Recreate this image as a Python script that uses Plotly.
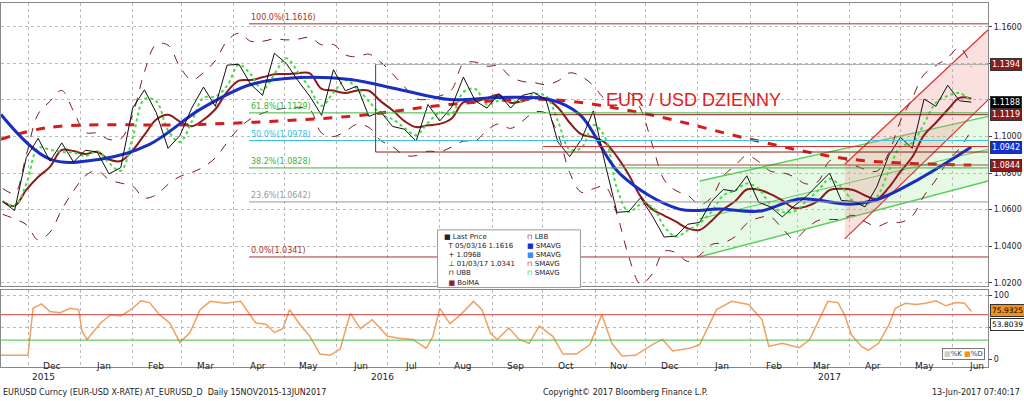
import plotly.graph_objects as go
import pandas as pd

# weekly closes EUR/USD
price_dates = pd.date_range("2015-11-16", "2017-06-12", freq="W-MON")
price_close = [1.0645, 1.0595, 1.0885, 1.0990, 1.0865, 1.0965, 1.0860, 1.0925, 1.0915, 1.0795,
               1.0830, 1.1155, 1.1255, 1.1130, 1.0935, 1.1005, 1.1155, 1.1270, 1.1165, 1.1390,
               1.1395, 1.1285, 1.1225, 1.1455, 1.1400, 1.1305, 1.1220, 1.1115, 1.1365, 1.1250,
               1.1275, 1.1110, 1.1135, 1.1055, 1.1040, 1.0975, 1.1175, 1.1085, 1.1160, 1.1325,
               1.1195, 1.1155, 1.1235, 1.1155, 1.1225, 1.1240, 1.1200, 1.0970, 1.0890, 1.0985,
               1.1140, 1.0850, 1.0585, 1.0590, 1.0665, 1.0565, 1.0450, 1.0455, 1.0520, 1.0530,
               1.0645, 1.0710, 1.0700, 1.0785, 1.0640, 1.0615, 1.0560, 1.0620, 1.0670, 1.0735,
               1.0800, 1.0650, 1.0645, 1.0615, 1.0725, 1.0895, 1.0995, 1.0935, 1.1205, 1.1165,
               1.1280, 1.1195, 1.1188]

sma_blue_dates = ["2015-11-15", "2015-12-14", "2016-01-13", "2016-02-11", "2016-03-12", "2016-04-11",
                  "2016-05-10", "2016-06-09", "2016-07-08", "2016-08-07", "2016-09-05", "2016-10-05",
                  "2016-10-23", "2016-11-16", "2016-12-21", "2017-01-14", "2017-02-07", "2017-03-02",
                  "2017-04-01", "2017-04-18", "2017-05-12", "2017-06-12"]
sma_blue = [1.112, 1.0876, 1.0876, 1.0957, 1.1148, 1.1284, 1.1322, 1.1311, 1.1257, 1.1202, 1.1213,
            1.1202, 1.112, 1.0794, 1.0603, 1.0603, 1.0592, 1.0658, 1.063, 1.0658, 1.0767, 1.0942]

sma_red_dates = ["2015-11-15", "2015-12-14", "2016-03-12", "2016-06-09", "2016-08-07", "2016-10-05",
                 "2016-12-03", "2017-02-01", "2017-04-01", "2017-06-12"]
sma_red = [1.0985, 1.105, 1.1066, 1.111, 1.1175, 1.1202, 1.112, 1.0985, 1.0876, 1.0844]

osc_dates = ["2015-11-15", "2015-12-01", "2015-12-04", "2015-12-09", "2015-12-14", "2015-12-20",
             "2015-12-26", "2015-12-31", "2016-01-02", "2016-01-05", "2016-01-10", "2016-01-13",
             "2016-01-19", "2016-01-25", "2016-01-31", "2016-02-06", "2016-02-11", "2016-02-17",
             "2016-02-23", "2016-02-29", "2016-03-06", "2016-03-12", "2016-03-18", "2016-03-27",
             "2016-04-05", "2016-04-14", "2016-04-20", "2016-04-25", "2016-04-30", "2016-05-04",
             "2016-05-10", "2016-05-16", "2016-05-22", "2016-05-28", "2016-06-03", "2016-06-09",
             "2016-06-15", "2016-06-22", "2016-07-01", "2016-07-08", "2016-07-16", "2016-07-24",
             "2016-07-28", "2016-08-01", "2016-08-07", "2016-08-13", "2016-08-21", "2016-08-26",
             "2016-08-31", "2016-09-04", "2016-09-11", "2016-09-17", "2016-09-23", "2016-09-29",
             "2016-10-07", "2016-10-13", "2016-10-21", "2016-10-29", "2016-11-05", "2016-11-11",
             "2016-11-17", "2016-11-25", "2016-12-05", "2016-12-11", "2016-12-17", "2016-12-27",
             "2017-01-02", "2017-01-12", "2017-01-21", "2017-01-31", "2017-02-08", "2017-02-12",
             "2017-02-20", "2017-03-02", "2017-03-08", "2017-03-14", "2017-03-19", "2017-03-25",
             "2017-03-29", "2017-04-02", "2017-04-08", "2017-04-12", "2017-04-18", "2017-04-24",
             "2017-04-28", "2017-05-04", "2017-05-10", "2017-05-16", "2017-05-22", "2017-05-28",
             "2017-06-03", "2017-06-08", "2017-06-12"]
osc_d = [6, 6, 80, 87, 75, 73, 80, 78, 44, 31, 47, 57, 70, 68, 78, 92, 89, 70, 57, 26, 42, 78, 91, 88,
         91, 57, 55, 42, 48, 78, 55, 36, 8, 6, 16, 72, 48, 62, 36, 33, 31, 17, 36, 80, 56, 69, 91, 78,
         41, 31, 49, 31, 25, 52, 36, 8, 8, 23, 70, 25, 5, 6, 23, 31, 13, 17, 23, 78, 91, 86, 62, 20,
         25, 18, 30, 64, 91, 89, 69, 38, 20, 14, 25, 53, 80, 88, 86, 88, 92, 84, 89, 88, 75]

# fibonacci retracement levels
fib_levels = [1.1616, 1.1129, 1.0978, 1.0828, 1.0642, 1.0341]
fib_labels = ["100.0%(1.1616)", "61.8%(1.1129)", "50.0%(1.0978)", "38.2%(1.0828)", "23.6%(1.0642)", "0.0%(1.0341)"]
fib_colors = ["#a83232", "#3cb43c", "#40c0e0", "#3cb43c", "#999999", "#a83232"]

# trend channels (dates, values)
green_upper = (["2017-01-02", "2017-06-22"], [1.0756, 1.111])
green_mid = (["2017-01-02", "2017-06-22"], [1.055, 1.093])
green_lower = (["2017-01-02", "2017-06-22"], [1.0342, 1.0756])
red_upper = (["2017-03-29", "2017-06-22"], [1.0848, 1.1584])
red_lower = (["2017-03-29", "2017-06-22"], [1.044, 1.12])

s = pd.Series(price_close, index=price_dates)
boll_ma = s.rolling(4, min_periods=1).mean()
boll_sd = s.rolling(5, min_periods=2).std().bfill().rolling(2, min_periods=1).mean()
boll_up = boll_ma + 2 * boll_sd
boll_lo = boll_ma - 2 * boll_sd
fast_ma = s.rolling(2, min_periods=1).mean()

X0, X1 = "2015-11-15", "2017-06-22"
fig = go.Figure()

# channels
fig.add_trace(go.Scatter(x=green_lower[0], y=green_lower[1], mode="lines", line=dict(color="#5ad05a", width=1.5)))
fig.add_trace(go.Scatter(x=green_upper[0], y=green_upper[1], mode="lines", line=dict(color="#5ad05a", width=1.5),
                         fill="tonexty", fillcolor="rgba(150,230,150,0.25)"))
fig.add_trace(go.Scatter(x=green_mid[0], y=green_mid[1], mode="lines", line=dict(color="#5ad05a", width=1)))
fig.add_trace(go.Scatter(x=red_lower[0], y=red_lower[1], mode="lines", line=dict(color="#e03030", width=1.2)))
fig.add_trace(go.Scatter(x=red_upper[0], y=red_upper[1], mode="lines", line=dict(color="#e03030", width=1.2),
                         fill="tonexty", fillcolor="rgba(240,130,130,0.25)"))

# bollinger
fig.add_trace(go.Scatter(x=price_dates, y=boll_up, mode="lines", line=dict(color="#7a1a1a", width=1, dash="dash"), line_shape="spline"))
fig.add_trace(go.Scatter(x=price_dates, y=boll_lo, mode="lines", line=dict(color="#7a1a1a", width=1, dash="dash"), line_shape="spline"))
fig.add_trace(go.Scatter(x=price_dates, y=boll_ma, mode="lines", line=dict(color="#8b1c1c", width=2), line_shape="spline"))
fig.add_trace(go.Scatter(x=price_dates, y=fast_ma, mode="lines", line=dict(color="#44dd44", width=2, dash="dot"), line_shape="spline"))
fig.add_trace(go.Scatter(x=sma_red_dates, y=sma_red, mode="lines", line=dict(color="#d41c1c", width=3, dash="dash"), line_shape="spline"))
fig.add_trace(go.Scatter(x=sma_blue_dates, y=sma_blue, mode="lines", line=dict(color="#1a2fc0", width=3), line_shape="spline"))
fig.add_trace(go.Scatter(x=price_dates, y=price_close, mode="lines", line=dict(color="#111111", width=1)))

# oscillator
fig.add_trace(go.Scatter(x=osc_dates, y=osc_d, mode="lines", line=dict(color="#f0a060", width=1.5),
                         xaxis="x2", yaxis="y2"))

# horizontal levels
for lvl, col, c in zip(fib_levels, fib_colors, fib_labels):
    fig.add_shape(type="line", x0="2016-04-10", x1=X1, y0=lvl, y1=lvl, line=dict(color=col, width=1), xref="x", yref="y")
    fig.add_annotation(x="2016-04-10", y=lvl, text=c, showarrow=False, xanchor="left", yanchor="bottom",
                       font=dict(size=8, color=col), xref="x", yref="y")
extra = [("2016-06-24", 1.1394, "#aaaaaa"), ("2016-06-24", 1.0915, "#8b1c1c"), ("2016-10-01", 1.0945, "#d03030"),
         ("2016-10-05", 1.1119, "#8b1c1c"), ("2016-11-15", 1.0844, "#a0522d")]
for d, lvl, col in extra:
    fig.add_shape(type="line", x0=d, x1=X1, y0=lvl, y1=lvl, line=dict(color=col, width=1), xref="x", yref="y")
fig.add_shape(type="line", x0="2016-06-24", x1="2016-06-24", y0=1.0915, y1=1.1394, line=dict(color="#444444", width=1))
fig.add_shape(type="line", x0=X0, x1=X1, y0=70, y1=70, line=dict(color="#d04040", width=1), xref="x2", yref="y2")
fig.add_shape(type="line", x0=X0, x1=X1, y0=30, y1=30, line=dict(color="#40c040", width=1), xref="x2", yref="y2")

# right tags
tags = [(1.1394, "#8b1c1c", "white", "y"), (1.1188, "black", "white", "y"), (1.1119, "#8b1c1c", "white", "y"),
        (1.0942, "#1530d0", "white", "y"), (1.0844, "#8b1c1c", "white", "y"),
        (75.9325, "#f09020", "black", "y2"), (53.8039, "white", "black", "y2")]
for v, bg, fc, yr in tags:
    fig.add_annotation(x=0.967, xref="paper", y=v, yref=yr, text=(f"{v:.4f}"), showarrow=False, xanchor="left",
                       bgcolor=bg, bordercolor="#333333", borderwidth=1, borderpad=1,
                       font=dict(size=8 if yr == "y" else 7.5, color=fc))

fig.add_annotation(x=0.764, y=0.78, xref="paper", yref="paper", text="EUR / USD DZIENNY", showarrow=False,
                   font=dict(size=18, color="#e0201b", family="Liberation Sans"))

# legend box
fig.add_shape(type="rect", xref="paper", yref="paper", x0=437/1024, x1=580/1024, y0=(401-289)/401, y1=(401-231)/401,
              fillcolor="white", line=dict(color="#999999", width=1))
fig.add_annotation(x=441/1024, y=(401-232)/401, xref="paper", yref="paper", showarrow=False, xanchor="left", yanchor="top",
                   align="left", font=dict(size=7, color="#222222"),
                   text="■ Last Price<br>  T 05/03/16 1.1616<br>  + 1.0968<br>  ⊥ 01/03/17 1.0341<br>  ⊓ UBB<br>  <span style='color:#a01c1c'>■</span> BolMA")
fig.add_annotation(x=525/1024, y=(401-232)/401, xref="paper", yref="paper", showarrow=False, xanchor="left", yanchor="top",
                   align="left", font=dict(size=7, color="#222222"),
                   text="<span style='color:#a01c1c'>⊓</span> LBB<br><span style='color:#1530d0'>■</span> SMAVG<br><span style='color:#3090ff'>■</span> SMAVG<br><span style='color:#d41c1c'>⊓</span> SMAVG<br><span style='color:#44cc44'>⊓</span> SMAVG")
fig.add_annotation(x=0.962, y=8, xref="paper", yref="y2", xanchor="right", text="<span style='color:#ccc'>■</span>%K <span style='color:#f09020'>■</span>%D",
                   showarrow=False, bgcolor="white", bordercolor="#777", borderwidth=1, font=dict(size=7))

# month labels
months = pd.date_range("2015-12-01", "2017-06-01", freq="MS")
for m in months:
    fig.add_annotation(x=m + pd.Timedelta(days=14), y=0.066, xref="x2", yref="paper", text=m.strftime("%b"),
                       showarrow=False, font=dict(size=9, color="#222"))
for yr, d in [("2015", "2015-12-10"), ("2016", "2016-06-28"), ("2017", "2017-03-20")]:
    fig.add_annotation(x=d, y=0.038, xref="x2", yref="paper", text=yr, showarrow=False, font=dict(size=9, color="#222"))
fig.add_annotation(x=0, y=0.0, xref="paper", yref="paper", xanchor="left", yanchor="bottom", showarrow=False,
                   text="EURUSD Curncy (EUR-USD X-RATE) AT_EURUSD_D  Daily 15NOV2015-13JUN2017", font=dict(size=8, color="#222"))
fig.add_annotation(x=0.61, y=0.0, xref="paper", yref="paper", yanchor="bottom", showarrow=False,
                   text="Copyright© 2017 Bloomberg Finance L.P.", font=dict(size=8, color="#222"))
fig.add_annotation(x=0.998, y=0.0, xref="paper", yref="paper", xanchor="right", yanchor="bottom", showarrow=False,
                   text="13-Jun-2017 07:40:17", font=dict(size=8, color="#222"))

grid = dict(showgrid=True, gridcolor="#bbbbbb", griddash="dot", gridwidth=1)
fig.update_layout(
    width=1024, height=401, margin=dict(l=0, r=0, t=0, b=0), showlegend=False,
    paper_bgcolor="white", plot_bgcolor="white", font=dict(family="DejaVu Sans"),
    xaxis=dict(domain=[0, 0.965], range=[X0, X1], anchor="y", tickvals=list(months), showticklabels=False,
               showline=True, linecolor="#888", mirror=True, **grid),
    xaxis2=dict(domain=[0, 0.965], range=[X0, X1], anchor="y2", tickvals=list(months), showticklabels=False,
                showline=True, linecolor="#888", mirror=True, **grid),
    yaxis=dict(domain=[0.284, 0.9925], range=[1.0184, 1.173], side="right", dtick=0.02, tick0=1.0, tickformat=".4f",
               ticks="outside", ticklen=3, tickfont=dict(size=8, color="#222"), showline=True, linecolor="#888",
               mirror=True, **grid),
    yaxis2=dict(domain=[0.08, 0.274], range=[-12.5, 109.4], side="right", tickvals=[0, 50, 100], ticktext=["0", "", "100"],
                ticks="outside", ticklen=3, tickfont=dict(size=8, color="#222"), showline=True, linecolor="#888",
                mirror=True, **grid),
)
fig.write_html("out.html", config={"displayModeBar": False},
               post_script="document.body.style.margin='0';document.body.style.overflow='hidden';")
